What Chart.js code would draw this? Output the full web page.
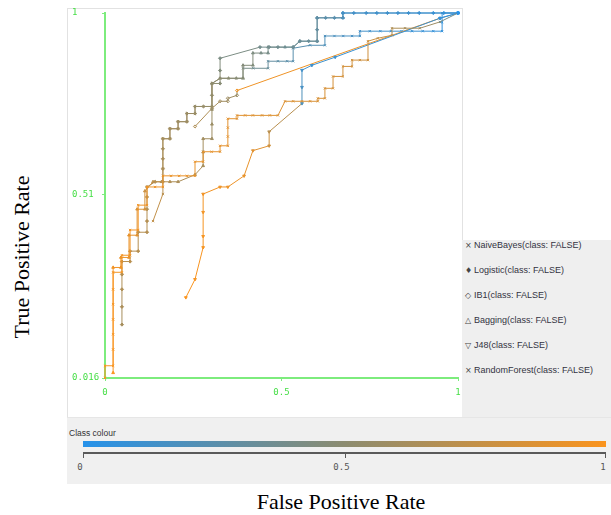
<!DOCTYPE html>
<html>
<head>
<meta charset="utf-8">
<script src="https://cdn.jsdelivr.net/npm/chart.js@4.4.1/dist/chart.umd.min.js"></script>
<style>
  html, body { margin: 0; padding: 0; background: #fff; }
  #wrap { position: relative; width: 611px; height: 515px; overflow: hidden; background: #fff; }
  #plotPanel { position: absolute; left: 67px; top: 8px; width: 396px; height: 410px; background: #fff;
               border: 1px solid #e2e2e2; box-sizing: border-box; }
  #legendPanel { position: absolute; left: 462px; top: 240px; width: 149px; height: 177px; background: #efefef; }
  #colourPanel { position: absolute; left: 67px; top: 417px; width: 544px; height: 67px; background: #f0f0f0;
                 border-top: 1px solid #e6e6e6; box-sizing: border-box; }
  #chart { position: absolute; left: 0; top: 0; }
  .legItem { position: absolute; left: 3px; height: 12px; line-height: 12px; white-space: nowrap;
             font-family: 'Liberation Sans', Arial, sans-serif; font-size: 9px; color: #33333f; }
  .legItem .sym { display: inline-block; width: 9px; font-family: 'DejaVu Sans', sans-serif; font-size: 8px; color: #444; }
  #colourTitle { position: absolute; left: 2px; top: 10px; font-family: 'Liberation Sans', Arial, sans-serif;
                 font-size: 8.5px; color: #333; }
  #colourBar { position: absolute; left: 16px; top: 23px; width: 523px; height: 6px; }
  #colourAxis { position: absolute; left: 16px; top: 34px; width: 523px; height: 2px; background: #5a5a5a; }
  .cTick { position: absolute; top: 34px; width: 1px; height: 6px; background: #5a5a5a; }
  .cLab { position: absolute; top: 44px; font-family: 'DejaVu Sans Mono', monospace; font-size: 9px; color: #555;
          transform: translateX(-50%); }
  .axisTitle { position: absolute; font-family: 'Liberation Serif', 'Times New Roman', serif; font-size: 22px;
               color: #000; white-space: nowrap; transform-origin: center; }
</style>
</head>
<body>
<div id="wrap">
  <div id="plotPanel"></div>
  <div id="legendPanel"></div>
  <div id="colourPanel">
    <div id="colourTitle">Class colour</div>
    <div id="colourBar"></div>
    <div id="colourAxis"></div>
  </div>
  <div class="axisTitle" id="yTitle" style="left:22px; top:257px; transform: translate(-50%,-50%) rotate(-90deg);">True Positive Rate</div>
  <div class="axisTitle" id="xTitle" style="left:341px; top:502px; transform: translate(-50%,-50%);">False Positive Rate</div>
  <canvas id="chart" width="611" height="515"></canvas>
</div>
<script>
// Axis ticks
const xTicks = [0, 0.5, 1];
const yTicks = [0.016, 0.51, 1];
const colourTicks = [0, 0.5, 1];
const classLabel = 'FALSE';

// Threshold curves: each point is [false positive rate, true positive rate, threshold]
const naiveBayes = [
  [0.136, 0.439, 0.74], [0.164, 0.512, 0.70], [0.164, 0.580, 0.66], [0.164, 0.661, 0.62],
  [0.184, 0.661, 0.61], [0.184, 0.688, 0.60], [0.207, 0.688, 0.59], [0.207, 0.707, 0.58],
  [0.232, 0.707, 0.58], [0.232, 0.729, 0.57], [0.255, 0.729, 0.56], [0.255, 0.748, 0.55],
  [0.303, 0.748, 0.53], [0.303, 0.810, 0.50], [0.326, 0.824, 0.48], [0.391, 0.824, 0.45],
  [0.391, 0.851, 0.40], [0.420, 0.851, 0.36], [0.462, 0.851, 0.32], [0.462, 0.870, 0.30],
  [0.490, 0.870, 0.28], [0.516, 0.870, 0.26], [0.533, 0.870, 0.25], [0.533, 0.905, 0.24],
  [0.581, 0.913, 0.22], [0.623, 0.913, 0.20], [0.623, 0.938, 0.19], [0.650, 0.938, 0.18],
  [0.675, 0.938, 0.17], [0.700, 0.938, 0.16], [0.722, 0.938, 0.15], [0.722, 0.951, 0.14],
  [0.750, 0.951, 0.13], [0.780, 0.951, 0.12], [0.810, 0.951, 0.11], [0.840, 0.951, 0.10],
  [0.870, 0.951, 0.09], [0.900, 0.951, 0.08], [0.930, 0.951, 0.07], [0.955, 0.951, 0.06],
  [0.955, 0.975, 0.05], [0.955, 1.000, 0.04], [1.000, 1.000, 0.00]
];

const logistic = [
  [0.048, 0.160, 0.62], [0.048, 0.208, 0.64], [0.048, 0.255, 0.66], [0.048, 0.295, 0.68],
  [0.048, 0.330, 0.70], [0.071, 0.330, 0.70], [0.071, 0.358, 0.70], [0.094, 0.358, 0.69],
  [0.094, 0.409, 0.69], [0.119, 0.409, 0.68], [0.119, 0.439, 0.68], [0.119, 0.471, 0.67],
  [0.119, 0.504, 0.67], [0.119, 0.531, 0.66], [0.142, 0.545, 0.66], [0.164, 0.545, 0.65],
  [0.164, 0.580, 0.64], [0.164, 0.607, 0.63], [0.164, 0.634, 0.62], [0.164, 0.661, 0.61],
  [0.184, 0.661, 0.60], [0.184, 0.688, 0.60], [0.207, 0.688, 0.59], [0.207, 0.707, 0.58],
  [0.232, 0.707, 0.58], [0.232, 0.729, 0.57], [0.255, 0.729, 0.56], [0.255, 0.748, 0.55],
  [0.279, 0.748, 0.55], [0.303, 0.748, 0.54], [0.303, 0.778, 0.52], [0.303, 0.810, 0.50],
  [0.326, 0.810, 0.48], [0.326, 0.845, 0.45], [0.326, 0.878, 0.42], [0.439, 0.908, 0.38],
  [0.465, 0.908, 0.37], [0.490, 0.908, 0.36], [0.533, 0.908, 0.35], [0.552, 0.924, 0.34],
  [0.577, 0.924, 0.33], [0.601, 0.924, 0.32], [0.601, 0.955, 0.30], [0.601, 0.987, 0.28],
  [0.625, 0.987, 0.25], [0.650, 0.987, 0.22], [0.674, 0.987, 0.18], [0.674, 1.000, 0.15],
  [0.705, 1.000, 0.14], [0.740, 1.000, 0.13], [0.770, 1.000, 0.12], [0.800, 1.000, 0.11],
  [0.830, 1.000, 0.10], [0.860, 1.000, 0.09], [0.890, 1.000, 0.07], [0.930, 1.000, 0.05],
  [0.960, 1.000, 0.03], [1.000, 1.000, 0.00]
];

const ib1 = [
  [0.255, 0.694, 0.66], [0.303, 0.743, 0.62], [0.326, 0.762, 0.60], [0.348, 0.762, 0.58],
  [0.348, 0.770, 0.58], [0.374, 0.778, 0.56], [0.374, 0.791, 0.95], [0.949, 0.986, 0.30],
  [1.000, 1.000, 0.00]
];

const bagging = [
  [0.023, 0.030, 1.00], [0.023, 0.314, 0.96], [0.045, 0.314, 0.95], [0.045, 0.341, 0.93],
  [0.068, 0.341, 0.92], [0.068, 0.401, 0.90], [0.091, 0.401, 0.88], [0.091, 0.471, 0.85],
  [0.113, 0.471, 0.82], [0.113, 0.520, 0.78], [0.136, 0.545, 0.72], [0.160, 0.545, 0.68],
  [0.184, 0.545, 0.66], [0.207, 0.545, 0.64], [0.255, 0.564, 0.63], [0.278, 0.588, 0.62],
  [0.278, 0.625, 0.61], [0.278, 0.661, 0.60], [0.303, 0.661, 0.58], [0.303, 0.700, 0.57],
  [0.303, 0.740, 0.55], [0.303, 0.810, 0.52], [0.326, 0.824, 0.50], [0.350, 0.824, 0.49],
  [0.372, 0.824, 0.48], [0.391, 0.824, 0.47], [0.391, 0.859, 0.46], [0.419, 0.859, 0.45],
  [0.419, 0.892, 0.43], [0.442, 0.892, 0.41], [0.462, 0.892, 0.40], [0.462, 0.908, 0.38],
  [0.510, 0.908, 0.36], [0.533, 0.908, 0.35], [0.552, 0.924, 0.34], [0.601, 0.924, 0.32],
  [0.601, 0.987, 0.28], [0.674, 0.987, 0.20], [0.674, 1.000, 0.15], [1.000, 1.000, 0.00]
];

const j48 = [
  [0.229, 0.233, 1.00], [0.255, 0.282, 0.99], [0.278, 0.368, 0.98], [0.278, 0.398, 0.98],
  [0.278, 0.463, 0.97], [0.278, 0.512, 0.96], [0.326, 0.531, 0.95], [0.348, 0.531, 0.94],
  [0.394, 0.561, 0.92], [0.419, 0.629, 0.88], [0.465, 0.642, 0.80], [0.465, 0.680, 0.70],
  [0.558, 0.756, 0.20], [0.558, 0.800, 0.16], [0.558, 0.846, 0.14], [0.586, 0.859, 0.12],
  [0.652, 0.881, 0.10], [0.949, 0.986, 0.05], [1.000, 1.000, 0.00]
];

const randomForest = [
  [0.000, 0.016, 1.00], [0.000, 0.049, 1.00], [0.023, 0.049, 0.99], [0.023, 0.093, 0.99],
  [0.023, 0.134, 0.99], [0.023, 0.174, 0.98], [0.023, 0.215, 0.98], [0.023, 0.255, 0.98],
  [0.023, 0.301, 0.97], [0.048, 0.301, 0.97], [0.048, 0.347, 0.97], [0.071, 0.347, 0.96],
  [0.071, 0.415, 0.96], [0.094, 0.415, 0.96], [0.094, 0.482, 0.95], [0.119, 0.482, 0.95],
  [0.119, 0.531, 0.95], [0.142, 0.531, 0.94], [0.164, 0.531, 0.94], [0.164, 0.561, 0.93],
  [0.187, 0.561, 0.93], [0.210, 0.561, 0.93], [0.232, 0.561, 0.92], [0.255, 0.561, 0.92],
  [0.255, 0.599, 0.92], [0.278, 0.599, 0.91], [0.278, 0.626, 0.91], [0.302, 0.626, 0.91],
  [0.326, 0.626, 0.90], [0.326, 0.642, 0.90], [0.348, 0.642, 0.90], [0.348, 0.667, 0.89],
  [0.348, 0.691, 0.89], [0.348, 0.715, 0.89], [0.374, 0.715, 0.88], [0.374, 0.724, 0.88],
  [0.397, 0.724, 0.88], [0.419, 0.724, 0.87], [0.445, 0.724, 0.87], [0.467, 0.724, 0.87],
  [0.490, 0.724, 0.86], [0.510, 0.762, 0.86], [0.533, 0.762, 0.86], [0.558, 0.762, 0.85],
  [0.581, 0.762, 0.85], [0.603, 0.762, 0.85], [0.603, 0.770, 0.84], [0.623, 0.770, 0.84],
  [0.623, 0.797, 0.84], [0.646, 0.797, 0.83], [0.646, 0.829, 0.83], [0.674, 0.829, 0.82],
  [0.674, 0.856, 0.82], [0.700, 0.856, 0.81], [0.700, 0.873, 0.81], [0.722, 0.873, 0.80],
  [0.745, 0.873, 0.80], [0.745, 0.924, 0.78], [0.773, 0.932, 0.75], [0.813, 0.940, 0.70],
  [0.813, 0.959, 0.66], [0.850, 0.959, 0.62], [0.892, 0.959, 0.58], [0.949, 0.976, 0.40],
  [1.000, 1.000, 0.02]
];

// Classifier list: legend order, marker style and drawing order (0 = on top)
const classifiers = [
  { name: 'NaiveBayes',   symbol: '\u00d7', pts: naiveBayes,   style: 'crossRot', rot: 0,   hollow: false, order: 5 },
  { name: 'Logistic',     symbol: '\u2666', pts: logistic,     style: 'rectRot',  rot: 0,   hollow: false, order: 4 },
  { name: 'IB1',          symbol: '\u25c7', pts: ib1,          style: 'rectRot',  rot: 0,   hollow: true,  order: 3 },
  { name: 'Bagging',      symbol: '\u25b3', pts: bagging,      style: 'triangle', rot: 0,   hollow: false, order: 2 },
  { name: 'J48',          symbol: '\u25bd', pts: j48,          style: 'triangle', rot: 180, hollow: false, order: 1 },
  { name: 'RandomForest', symbol: '\u00d7', pts: randomForest, style: 'crossRot', rot: 0,   hollow: false, order: 0 }
];

// Threshold colour scale: blue (0) -> grey-olive (0.5) -> orange (1)
const colourStops = [[0, [38, 146, 234]], [0.5, [140, 140, 112]], [1, [250, 148, 30]]];
function colourAt(t) {
  t = Math.max(0, Math.min(1, t));
  for (let i = 1; i < colourStops.length; i++) {
    const [t1, c1] = colourStops[i];
    const [t0, c0] = colourStops[i - 1];
    if (t <= t1) {
      const f = (t - t0) / (t1 - t0);
      const c = c0.map((v, k) => Math.round(v + (c1[k] - v) * f));
      return `rgb(${c[0]},${c[1]},${c[2]})`;
    }
  }
  const c = colourStops[colourStops.length - 1][1];
  return `rgb(${c[0]},${c[1]},${c[2]})`;
}

// Legend panel
const legendPanel = document.getElementById('legendPanel');
classifiers.forEach((c, i) => {
  const row = document.createElement('div');
  row.className = 'legItem';
  row.style.top = (i * 25 - 1) + 'px';
  row.innerHTML = `<span class="sym">${c.symbol}</span>${c.name}(class: ${classLabel})`;
  legendPanel.appendChild(row);
});

// Class colour bar with its 0 / 0.5 / 1 axis
const colourPanel = document.getElementById('colourPanel');
document.getElementById('colourBar').style.background =
  'linear-gradient(to right, ' + colourStops.map(s => colourAt(s[0]) + ' ' + (s[0] * 100) + '%').join(', ') + ')';
const barLeft = 16, barWidth = 523;
colourTicks.forEach(v => {
  const x = barLeft + v * barWidth;
  const tk = document.createElement('div');
  tk.className = 'cTick';
  tk.style.left = Math.round(x - (v === 1 ? 1 : 0)) + 'px';
  colourPanel.appendChild(tk);
  const lb = document.createElement('div');
  lb.className = 'cLab';
  lb.style.left = (x - 3) + 'px';
  lb.textContent = String(v);
  colourPanel.appendChild(lb);
});

// Main ROC plot
const axisGreen = 'rgb(125,236,125)';
const labelGreen = 'rgb(70,222,70)';

const datasets = classifiers.map(c => {
  const cols = c.pts.map(p => colourAt(p[2]));
  return {
    label: c.name,
    data: c.pts.map(p => ({ x: p[0], y: p[1] })),
    showLine: true,
    borderWidth: 1,
    borderColor: cols[0],
    segment: { borderColor: ctx => cols[ctx.p0DataIndex] },
    pointStyle: c.style,
    rotation: c.rot,
    pointRadius: 1.6,
    pointBorderWidth: 1,
    pointBorderColor: cols,
    pointBackgroundColor: c.hollow ? 'rgba(255,255,255,0)' : cols,
    order: c.order,
    clip: false,
    tension: 0
  };
});

new Chart(document.getElementById('chart'), {
  type: 'scatter',
  data: { datasets },
  options: {
    responsive: false,
    animation: false,
    events: [],
    layout: { autoPadding: false, padding: { left: 72, right: 153, top: 13, bottom: 107 } },
    plugins: { legend: { display: false }, tooltip: { enabled: false } },
    scales: {
      x: {
        type: 'linear', min: 0, max: 1,
        afterBuildTicks: s => { s.ticks = xTicks.map(v => ({ value: v })); },
        afterFit: s => { s.height = 30; },
        border: { display: true, color: axisGreen, width: 2 },
        grid: { display: true, drawOnChartArea: false, drawTicks: true, tickLength: 3, color: axisGreen },
        ticks: {
          autoSkip: false, maxRotation: 0, padding: 6, color: labelGreen,
          font: { family: "'DejaVu Sans Mono', monospace", size: 9 },
          callback: v => String(v)
        }
      },
      y: {
        type: 'linear', min: yTicks[0], max: yTicks[yTicks.length - 1],
        afterBuildTicks: s => { s.ticks = yTicks.map(v => ({ value: v })); },
        afterFit: s => { s.width = 33; },
        border: { display: true, color: axisGreen, width: 2 },
        grid: { display: true, drawOnChartArea: false, drawTicks: true, tickLength: 3, color: axisGreen },
        ticks: {
          autoSkip: false, crossAlign: 'far', padding: 2, color: labelGreen,
          font: { family: "'DejaVu Sans Mono', monospace", size: 9 },
          callback: v => String(v)
        }
      }
    }
  }
});
</script>
</body>
</html>
